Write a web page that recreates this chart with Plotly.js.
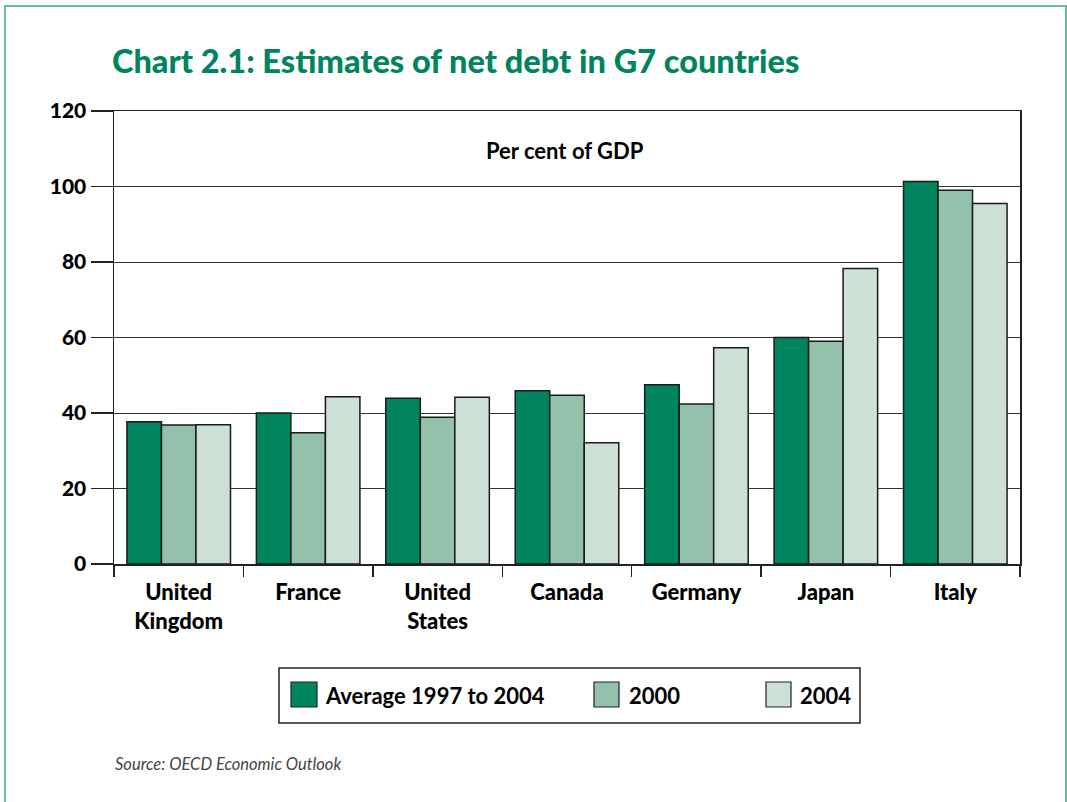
<!DOCTYPE html>
<html>
<head>
<meta charset="utf-8">
<script src="https://cdn.plot.ly/plotly-3.0.1.min.js"></script>
<style>html,body{margin:0;padding:0;background:#fff;}#chart{width:1067px;height:802px;}</style>
</head>
<body>
<div id="chart"></div>
<script>
// ---- data ----
const countries = ["United<br>Kingdom", "France", "United<br>States", "Canada", "Germany", "Japan", "Italy"];
const seriesNames = ["Average 1997 to 2004", "2000", "2004"];
const avg9704 = [37.7, 40.0, 43.9, 45.9, 47.5, 60.0, 101.3];
const y2000   = [36.8, 34.8, 38.9, 44.7, 42.4, 59.0, 99.0];
const y2004   = [36.9, 44.3, 44.2, 32.1, 57.3, 78.3, 95.5];
const yTicks = [0, 20, 40, 60, 80, 100, 120];
const colors = ["#00845E", "#93C1AC", "#CCE0D6"];

// ---- layout helpers (pixel -> paper) ----
const W = 1067, H = 802;
const L = 114, R = 1020, T = 111, B = 564;
const px = v => (v - L) / (R - L);
const py = v => (B - v) / (B - T);

const FONT = "Lato, 'Open Sans', sans-serif";
const values = [avg9704, y2000, y2004];

const traces = values.map((vals, i) => ({
  type: "bar",
  name: seriesNames[i],
  x: countries,
  y: vals,
  marker: {color: colors[i], line: {color: "#1a1a1a", width: 1.5}},
  showlegend: false,
  hoverinfo: "y"
}));

// manual legend (swatches + labels)
const legendSw = [[291, 317], [594, 619], [766, 791]];
const legendTx = [323, 627, 798];
const shapes = [
  // page border
  {type: "rect", xref: "paper", yref: "paper", x0: px(5), x1: px(1066), y0: py(830), y1: py(6),
   line: {color: "#3AA585", width: 1.5}, fillcolor: "rgba(0,0,0,0)", layer: "below"},
  // legend box
  {type: "rect", xref: "paper", yref: "paper", x0: px(279), x1: px(860), y0: py(723), y1: py(668),
   line: {color: "#222", width: 1.5}, fillcolor: "rgba(0,0,0,0)"}
];
const annotations = [
  {text: "<b>Per cent of GDP</b>", xref: "paper", yref: "paper", x: px(565), y: py(150),
   xanchor: "center", yanchor: "middle", showarrow: false, font: {family: FONT, size: 22, color: "#000"}},
  {text: "<i>Source: OECD Economic Outlook</i>", xref: "paper", yref: "paper", x: px(113), y: py(764),
   xanchor: "left", yanchor: "middle", showarrow: false, font: {family: FONT, size: 16.5, color: "#444"}}
];
seriesNames.forEach((n, i) => {
  shapes.push({type: "rect", xref: "paper", yref: "paper", x0: px(legendSw[i][0]), x1: px(legendSw[i][1]),
    y0: py(707), y1: py(682), fillcolor: colors[i], line: {color: "#222", width: 1.2}});
  annotations.push({text: "<b>" + n + "</b>", xref: "paper", yref: "paper", x: px(legendTx[i]), y: py(695),
    xanchor: "left", yanchor: "middle", showarrow: false, font: {family: FONT, size: 22, color: "#000"}});
});

const layout = {
  width: W, height: H,
  margin: {l: L, r: W - R, t: T, b: H - B, pad: 0},
  paper_bgcolor: "#fff", plot_bgcolor: "#fff",
  title: {text: "Chart 2.1: Estimates of net debt in G7 countries", xref: "container", yref: "container",
          x: 112 / W, xanchor: "left", y: 1 - 62 / H, yanchor: "middle",
          font: {family: FONT, size: 32.5, color: "#00845E", weight: 900}},
  barmode: "group", bargap: 0.2, bargroupgap: 0,
  xaxis: {type: "category", showline: true, linecolor: "#222", linewidth: 1.5, mirror: true,
          ticks: "outside", tickson: "boundaries", ticklen: 11, tickcolor: "#222", tickwidth: 1.5,
          ticklabelstandoff: 8,
          showgrid: false, tickfont: {family: FONT, size: 22, color: "#000", weight: 900}},
  yaxis: {range: [0, 120], tickvals: yTicks, ticktext: yTicks.map(String),
          showline: true, linecolor: "#222", linewidth: 1.5, mirror: true,
          ticks: "outside", ticklen: 22, tickcolor: "#222", tickwidth: 1.5,
          showgrid: true, gridcolor: "#333", gridwidth: 1, zeroline: false,
          tickfont: {family: FONT, size: 21, color: "#000", weight: 900}},
  showlegend: false,
  shapes: shapes,
  annotations: annotations
};

Plotly.newPlot("chart", traces, layout, {displayModeBar: false, staticPlot: true});
</script>
</body>
</html>
